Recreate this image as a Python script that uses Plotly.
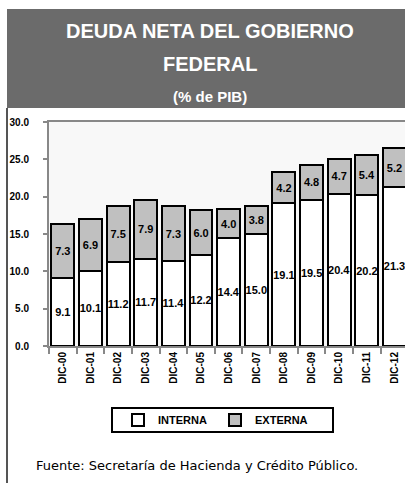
import plotly.graph_objects as go

# ---------- data ----------
periodos = ["DIC-00", "DIC-01", "DIC-02", "DIC-03", "DIC-04", "DIC-05", "DIC-06",
            "DIC-07", "DIC-08", "DIC-09", "DIC-10", "DIC-11", "DIC-12"]
interna = [9.1, 10.1, 11.2, 11.7, 11.4, 12.2, 14.4, 15.0, 19.1, 19.5, 20.4, 20.2, 21.3]
externa = [7.3, 6.9, 7.5, 7.9, 7.3, 6.0, 4.0, 3.8, 4.2, 4.8, 4.7, 5.4, 5.2]
y_ticks = [0, 5, 10, 15, 20, 25, 30]

FONT = "Liberation Sans, Arial"

# pixel helpers for the paper coords (plot area: x 49..405, y 122..346)
L, R, T, B = 49, 405, 122, 346
def px_x(x):
    return (x - L) / (R - L)
def px_y(y):
    return (B - y) / (B - T)

fig = go.Figure()
fig.add_trace(go.Bar(
    x=periodos, y=interna, name="<b>INTERNA</b>",
    marker=dict(color="white", line=dict(color="black", width=2)),
    text=[f"<b>{v:.1f}</b>" for v in interna], textposition="inside",
    insidetextanchor="middle", textangle=0,
    textfont=dict(family=FONT, size=11, color="black"),
))
fig.add_trace(go.Bar(
    x=periodos, y=externa, name="<b>EXTERNA</b>",
    marker=dict(color="#c0c0c0", line=dict(color="black", width=2)),
    text=[f"<b>{v:.1f}</b>" for v in externa], textposition="inside",
    insidetextanchor="middle", textangle=0,
    textfont=dict(family=FONT, size=11, color="black"),
))

fig.update_layout(
    barmode="stack", bargap=0.17,
    width=405, height=483,
    margin=dict(l=L, r=405 - R, t=T, b=483 - B),
    paper_bgcolor="white", plot_bgcolor="#f8f8f8",
    font=dict(family=FONT, color="black"),
    uniformtext=dict(minsize=11, mode="show"),
    showlegend=True,
    legend=dict(
        orientation="h", x=px_x(215), y=px_y(420), xanchor="center", yanchor="middle",
        borderwidth=0, bgcolor="rgba(0,0,0,0)",
        font=dict(family=FONT, size=11, color="black"),
        entrywidth=52, itemsizing="constant",
        traceorder="normal",
    ),
)

fig.update_xaxes(
    range=[-0.5, 12.38], showgrid=False,
    showline=True, linecolor="#888888", linewidth=2, mirror=True,
    ticks="outside", tickson="boundaries", ticklen=6, tickcolor="#888888", tickwidth=2,
    tickangle=-90, tickfont=dict(family=FONT, size=10, color="black"),
    tickvals=periodos, ticktext=[f"<b>{p}</b>" for p in periodos],
)
fig.update_yaxes(
    range=[0, 30], tickvals=y_ticks, ticktext=[f"<b>{v:.1f}</b>" for v in y_ticks],
    showgrid=False, zeroline=False,
    showline=True, linecolor="#888888", linewidth=2,
    ticks="outside", ticklen=4, tickcolor="#888888", tickwidth=2,
    tickfont=dict(family=FONT, size=10, color="black"),
    ticklabelstandoff=12,
)

# title band
fig.add_shape(type="rect", xref="paper", yref="paper",
              x0=px_x(7), x1=px_x(405), y0=px_y(108), y1=px_y(9),
              fillcolor="#6b6b6b", line=dict(width=0), layer="below")
# left frame line
fig.add_shape(type="line", xref="paper", yref="paper",
              x0=px_x(7), x1=px_x(7), y0=px_y(108), y1=px_y(483),
              line=dict(color="#555555", width=2))
# legend box
fig.add_shape(type="rect", xref="paper", yref="paper",
              x0=px_x(112), x1=px_x(333), y0=px_y(432), y1=px_y(408),
              fillcolor="white", line=dict(color="black", width=2), layer="below")

titulos = [("DEUDA NETA DEL GOBIERNO", 31, 20), ("FEDERAL", 64, 20), ("(% de PIB)", 96, 15)]
for txt, yy, sz in titulos:
    fig.add_annotation(text=f"<b>{txt}</b>", xref="paper", yref="paper",
                       x=px_x(210), y=px_y(yy), showarrow=False,
                       xanchor="center", yanchor="middle",
                       font=dict(family=FONT, size=sz, color="white"))

fig.add_annotation(text="Fuente: Secretaría de Hacienda y Crédito Público.",
                   xref="paper", yref="paper", x=px_x(34), y=px_y(465),
                   showarrow=False, xanchor="left", yanchor="middle",
                   font=dict(family="DejaVu Sans", size=13, color="black"))

fig.write_html("out.html", config={"displayModeBar": False},
               post_script="document.body.style.margin='0px';")
